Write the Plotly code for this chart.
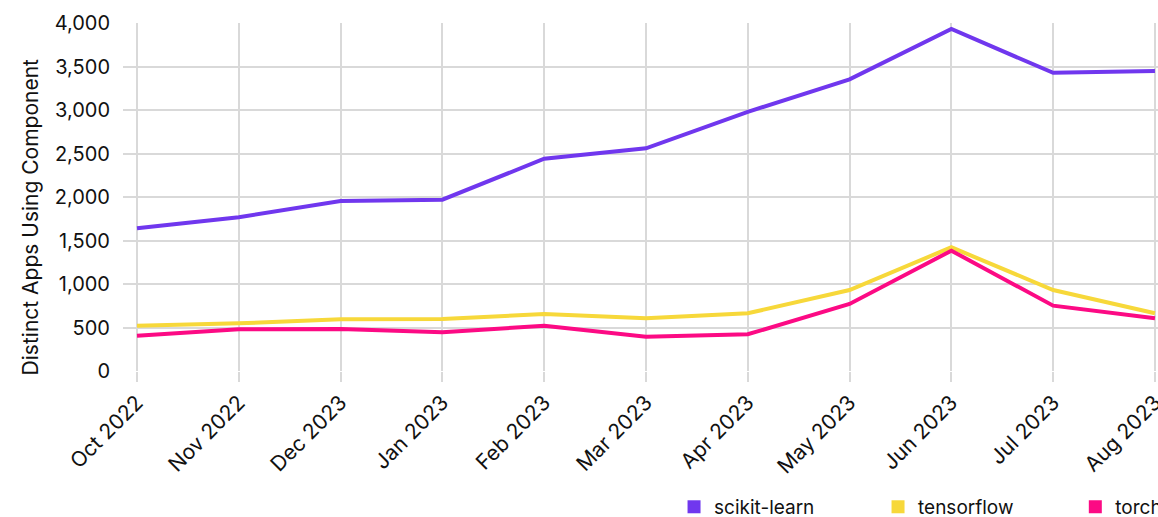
import plotly.graph_objects as go

months = ["Oct 2022", "Nov 2022", "Dec 2023", "Jan 2023", "Feb 2023", "Mar 2023",
          "Apr 2023", "May 2023", "Jun 2023", "Jul 2023", "Aug 2023"]
scikit_learn = [1640, 1767, 1954, 1969, 2440, 2560, 2978, 3353, 3931, 3427, 3448]
tensorflow = [521, 548, 594, 598, 655, 606, 663, 931, 1422, 931, 663]
torch = [406, 479, 483, 445, 521, 394, 422, 770, 1383, 751, 606]

series = [
    ("scikit-learn", scikit_learn, "#7037EE"),
    ("tensorflow", tensorflow, "#F7D83A"),
    ("torch", torch, "#FC0A84"),
]

FONT = "Inter"
x_idx = list(range(len(months)))

# one small legend per series, placed side by side under the plot
legend_ids = ["legend", "legend2", "legend3"]
legend_pos = [(0.5324, "left"), (0.7295, "left"), (1.009, "right")]

fig = go.Figure()
for name, vals, color in series:
    fig.add_trace(go.Scatter(
        x=x_idx, y=vals, mode="lines", name=name,
        line=dict(color=color, width=4), showlegend=False,
    ))
for (name, vals, color), lid in zip(series, legend_ids):
    # square swatches for the legend
    fig.add_trace(go.Scatter(
        x=[None], y=[None], mode="markers", name=name, legend=lid,
        marker=dict(symbol="square", size=13, color=color),
    ))

legend_style = dict(orientation="h", y=-0.336, yanchor="top", itemwidth=30,
                    font=dict(size=19, family=FONT), bgcolor="rgba(0,0,0,0)")
legends = {}
for lid, (lx, anchor) in zip(legend_ids, legend_pos):
    legends[lid] = dict(legend_style, x=lx, xanchor=anchor)

fig.update_layout(
    width=1158, height=517,
    margin=dict(l=123, r=0, t=23, b=146, autoexpand=False),
    paper_bgcolor="white", plot_bgcolor="white",
    font=dict(family=FONT, size=20, color="#111111"),
    annotations=[dict(
        text="Distinct Apps Using Component", textangle=-90,
        xref="paper", yref="paper", x=-0.0895, y=0.4425,
        xanchor="center", yanchor="middle", showarrow=False,
        font=dict(size=21, family=FONT, color="#111111"),
    )],
    **legends,
)
fig.update_xaxes(
    range=[-0.1375, 10.03], automargin=False,
    tickmode="array", tickvals=x_idx, ticktext=months, tickangle=-45,
    ticklabeloverflow="allow",
    showgrid=True, gridcolor="#d9d9d9", gridwidth=1.5,
    ticks="outside", ticklen=10, tickcolor="#d9d9d9", tickwidth=1.5,
    showline=False, zeroline=False,
    tickfont=dict(size=21, family=FONT),
)
fig.update_yaxes(
    range=[0, 4000], automargin=False, tickmode="array",
    tickvals=[0, 500, 1000, 1500, 2000, 2500, 3000, 3500, 4000],
    tickformat=",d",
    showgrid=True, gridcolor="#d9d9d9", gridwidth=1.5,
    zeroline=False, showline=False,
    ticks="", ticklabelstandoff=12,
    tickfont=dict(size=20, family=FONT),
)

fig.write_html("out.html")
